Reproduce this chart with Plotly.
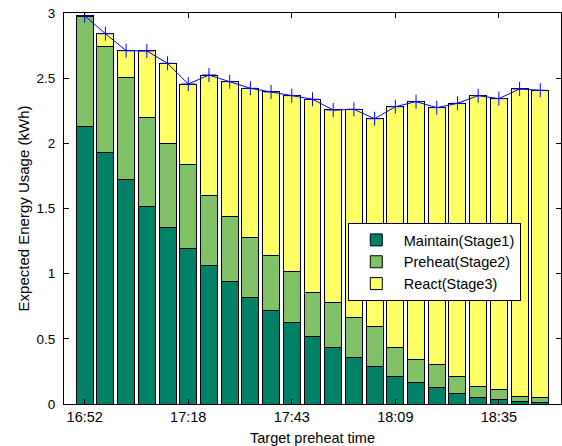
import plotly.graph_objects as go

tick_labels = ["16:52", "17:18", "17:43", "18:09", "18:35"]
tick_index = [0, 5, 10, 15, 20]

maintain = [2.128, 1.928, 1.726, 1.517, 1.353, 1.194, 1.059, 0.941, 0.819, 0.719, 0.624, 0.516,
            0.432, 0.358, 0.284, 0.210, 0.166, 0.123, 0.077, 0.051, 0.031, 0.023, 0.010]
preheat = [0.849, 0.816, 0.781, 0.680, 0.644, 0.647, 0.539, 0.499, 0.460, 0.424, 0.389, 0.343,
           0.345, 0.304, 0.307, 0.222, 0.177, 0.179, 0.133, 0.087, 0.084, 0.038, 0.041]
react = [0.002, 0.097, 0.204, 0.512, 0.617, 0.614, 0.926, 1.033, 1.143, 1.251, 1.353, 1.479,
         1.479, 1.599, 1.598, 1.849, 1.977, 1.972, 2.097, 2.228, 2.228, 2.356, 2.356]

idx = list(range(len(maintain)))
total = [m + p + r for m, p, r in zip(maintain, preheat, react)]

FAM = "Liberation Sans, Arial, sans-serif"
font = dict(family=FAM, size=13, color="black")
line_style = dict(color="black", width=1)

fig = go.Figure()
fig.add_trace(go.Bar(x=idx, y=maintain, name="Maintain(Stage1)",
                     marker=dict(color="#008066", line=line_style), width=0.82))
fig.add_trace(go.Bar(x=idx, y=preheat, name="Preheat(Stage2)",
                     marker=dict(color="#80C066", line=line_style), width=0.82))
fig.add_trace(go.Bar(x=idx, y=react, name="React(Stage3)",
                     marker=dict(color="#FFFF66", line=line_style), width=0.82))
fig.add_trace(go.Scatter(x=idx, y=total, mode="lines+markers", showlegend=False,
                         line=dict(color="#0000FF", width=1),
                         marker=dict(symbol="cross-thin-open", size=10,
                                     line=dict(color="#0000FF", width=1), color="#0000FF")))

fig.update_layout(
    barmode="stack",
    width=562, height=446,
    margin=dict(l=64, r=1, t=13, b=42),
    paper_bgcolor="white", plot_bgcolor="white",
    font=font,
    legend=dict(x=0.571, y=0.463, xanchor="left", yanchor="top",
                bordercolor="black", borderwidth=1, bgcolor="white",
                font=dict(family=FAM, size=14.5), traceorder="normal",
                tracegroupgap=0, itemwidth=45),
    xaxis=dict(range=[-1, 23], tickvals=tick_index, ticktext=tick_labels,
               automargin=False, tickfont=dict(family=FAM, size=14.5),
               showgrid=False, zeroline=False, showline=True, linecolor="black", linewidth=1,
               mirror="ticks", ticks="inside", ticklen=5, tickcolor="black",
               title=dict(text="Target preheat time", font=dict(family=FAM, size=14.5))),
    yaxis=dict(range=[0, 3], tickvals=[0, 0.5, 1, 1.5, 2, 2.5, 3],
               ticktext=["0", "0.5", "1", "1.5", "2", "2.5", "3"],
               automargin=False, tickfont=dict(family=FAM, size=13.5), ticklabelstandoff=5,
               showgrid=False, zeroline=False, showline=True, linecolor="black", linewidth=1,
               mirror="ticks", ticks="inside", ticklen=5, tickcolor="black",
               title=dict(text="Expected Energy Usage (kWh)", standoff=3,
                          font=dict(family=FAM, size=15))),
)

fig.write_html("out.html", config={"displayModeBar": False},
               post_script="document.body.style.margin='0';document.body.style.padding='0';")
